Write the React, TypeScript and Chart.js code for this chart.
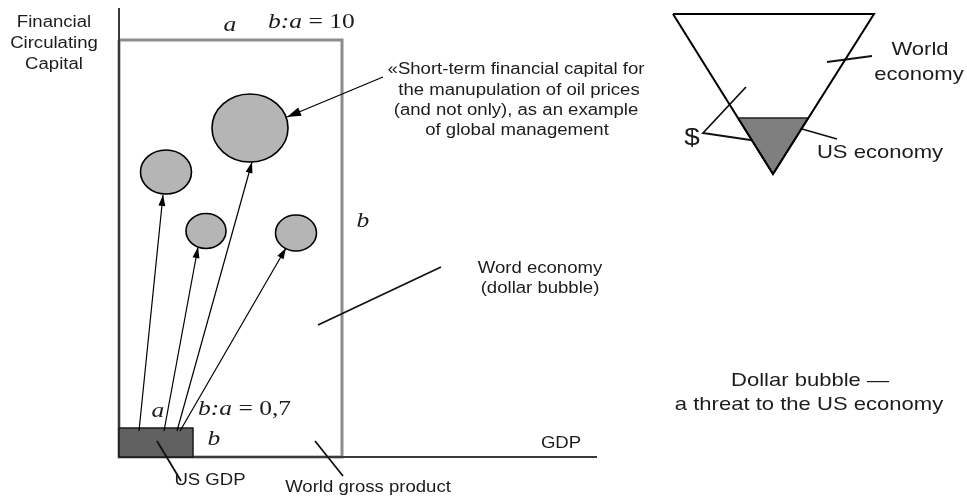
import React, { useEffect, useRef } from "react";
import { Chart, registerables } from "chart.js";

Chart.register(...registerables);

type P = { x: number; y: number };

// ---- geometry (diagram units = reference pixels) ----
const axisYLine: P[] = [{ x: 119, y: 8 }, { x: 119, y: 457 }];
const axisXLine: P[] = [{ x: 119, y: 457 }, { x: 597, y: 457 }];
const worldRect: P[] = [
  { x: 119, y: 40 }, { x: 342, y: 40 }, { x: 342, y: 457 }, { x: 119, y: 457 }, { x: 119, y: 40 },
];
const usRect: P[] = [
  { x: 119, y: 428 }, { x: 193, y: 428 }, { x: 193, y: 457 }, { x: 119, y: 457 }, { x: 119, y: 428 },
];
const bubbleCenters: P[] = [
  { x: 250, y: 128 }, { x: 166, y: 172 }, { x: 206, y: 231 }, { x: 296, y: 233 },
];
const bubbleRx = [38, 25.5, 20, 20.5];
const bubbleRy = [34, 22, 17.5, 18];
const arrowPaths: P[][] = [
  [{ x: 139, y: 431 }, { x: 163, y: 195 }],
  [{ x: 164, y: 431 }, { x: 198, y: 247 }],
  [{ x: 177, y: 431 }, { x: 252, y: 162 }],
  [{ x: 180, y: 431 }, { x: 286, y: 248 }],
  [{ x: 383, y: 77 }, { x: 287, y: 117 }],
];
const arrowHeadLen = [11, 11, 11, 11, 14];
const arrowHeadWidth = [7, 7, 7, 7, 9];
const leaderPaths: P[][] = [
  [{ x: 441, y: 267 }, { x: 318, y: 325 }],
  [{ x: 315, y: 441 }, { x: 343, y: 476 }],
  [{ x: 157, y: 441 }, { x: 181, y: 481 }],
  [{ x: 827, y: 62 }, { x: 872, y: 56 }],
  [{ x: 746, y: 87 }, { x: 703, y: 133 }, { x: 764, y: 142 }],
  [{ x: 795, y: 127 }, { x: 837, y: 139 }],
];
const outerTriangle: P[] = [
  { x: 673, y: 14 }, { x: 874, y: 14 }, { x: 773, y: 174 }, { x: 673, y: 14 },
];
const innerTriangle: P[] = [
  { x: 738, y: 118 }, { x: 808, y: 118 }, { x: 773, y: 174 }, { x: 738, y: 118 },
];

// ---- texts ----
const sansTexts = [
  "Financial", "Circulating", "Capital",
  "«Short-term financial capital for", "the manupulation of oil prices",
  "(and not only), as an example", "of global management",
  "Word economy", "(dollar bubble)",
  "GDP", "US GDP", "World gross product",
];
const sansAnchors: P[] = [
  { x: 54, y: 27 }, { x: 54, y: 48 }, { x: 54, y: 69 },
  { x: 516, y: 74 }, { x: 519, y: 95 }, { x: 516, y: 115 }, { x: 517, y: 135 },
  { x: 540, y: 273 }, { x: 540, y: 293 },
  { x: 561, y: 448 }, { x: 210, y: 485 }, { x: 368, y: 492 },
];
const sansSizes = [16, 16, 16, 16, 16, 16, 16, 16, 16, 16, 16, 16];

const rightTexts = ["World", "economy", "US economy", "Dollar bubble —", "a threat to the US economy"];
const rightAnchors: P[] = [
  { x: 920, y: 55 }, { x: 919, y: 80 }, { x: 880, y: 158 }, { x: 810, y: 386 }, { x: 809, y: 410 },
];
const rightSizes = [19, 19, 19, 19, 19];

const dollarText = "$";
const dollarAnchor: P = { x: 692, y: 145 };

// serif labels: [italic part, upright part]
const serifItalic = ["a", "b:a", "b", "a", "b:a", "b"];
const serifUpright = ["", " = 10", "", "", " = 0,7", ""];
const serifAnchors: P[] = [
  { x: 230, y: 31 }, { x: 268, y: 28 }, { x: 363, y: 227 },
  { x: 158, y: 417 }, { x: 198, y: 415 }, { x: 214, y: 445 },
];
const serifAlignLeft = [false, true, false, false, true, false];

const STRETCH = 1.16;
const TEXT_COLOR = "#1c1c1c";

const diagramPlugin = {
  id: "diagramPlugin",
  beforeDatasetDraw(chart: any, args: any) {
    const ds = chart.data.datasets[args.index];
    const meta = args.meta;
    const ctx = chart.ctx;
    if (ds.polyFill) {
      const pts = meta.data;
      ctx.save();
      ctx.beginPath();
      pts.forEach((p: any, i: number) => (i === 0 ? ctx.moveTo(p.x, p.y) : ctx.lineTo(p.x, p.y)));
      ctx.closePath();
      ctx.fillStyle = ds.polyFill;
      ctx.fill();
      ctx.restore();
    }
    if (ds.ellipseRx) {
      const xs = chart.scales.x;
      const ys = chart.scales.y;
      ctx.save();
      meta.data.forEach((p: any, i: number) => {
        const rx = Math.abs(xs.getPixelForValue(ds.ellipseRx[i]) - xs.getPixelForValue(0));
        const ry = Math.abs(ys.getPixelForValue(ds.ellipseRy[i]) - ys.getPixelForValue(0));
        ctx.beginPath();
        ctx.ellipse(p.x, p.y, rx, ry, 0, 0, Math.PI * 2);
        ctx.fillStyle = ds.backgroundColor;
        ctx.fill();
        ctx.lineWidth = ds.borderWidth;
        ctx.strokeStyle = ds.borderColor;
        ctx.stroke();
      });
      ctx.restore();
      return false;
    }
    return true;
  },
  afterDatasetDraw(chart: any, args: any) {
    const ds = chart.data.datasets[args.index];
    if (!ds.arrowLen) return;
    const pts = args.meta.data;
    const a = pts[pts.length - 2];
    const b = pts[pts.length - 1];
    const ang = Math.atan2(b.y - a.y, b.x - a.x);
    const len = ds.arrowLen;
    const w = ds.arrowWidth / 2;
    const ctx = chart.ctx;
    const bx = b.x - len * Math.cos(ang);
    const by = b.y - len * Math.sin(ang);
    ctx.save();
    ctx.beginPath();
    ctx.moveTo(b.x, b.y);
    ctx.lineTo(bx + w * Math.sin(ang), by - w * Math.cos(ang));
    ctx.lineTo(bx - w * Math.sin(ang), by + w * Math.cos(ang));
    ctx.closePath();
    ctx.fillStyle = "#000";
    ctx.fill();
    ctx.restore();
  },
  afterDraw(chart: any) {
    const ctx = chart.ctx;
    const xs = chart.scales.x;
    const ys = chart.scales.y;
    const px = (p: P) => ({ x: xs.getPixelForValue(p.x), y: ys.getPixelForValue(p.y) });
    const drawStretched = (text: string, p: P, font: string, align: CanvasTextAlign) => {
      const q = px(p);
      ctx.save();
      ctx.translate(q.x, q.y);
      ctx.scale(STRETCH, 1);
      ctx.font = font;
      ctx.textAlign = align;
      ctx.textBaseline = "alphabetic";
      ctx.fillStyle = TEXT_COLOR;
      ctx.fillText(text, 0, 0);
      ctx.restore();
    };
    sansTexts.forEach((t, i) =>
      drawStretched(t, sansAnchors[i], `${sansSizes[i]}px "Liberation Sans", Arial, sans-serif`, "center")
    );
    rightTexts.forEach((t, i) =>
      drawStretched(t, rightAnchors[i], `${rightSizes[i]}px "Liberation Sans", Arial, sans-serif`, "center")
    );
    drawStretched(dollarText, dollarAnchor, `24px "Liberation Sans", Arial, sans-serif`, "center");

    serifItalic.forEach((it, i) => {
      const q = px(serifAnchors[i]);
      const fi = `italic 22px "Liberation Serif", "Times New Roman", serif`;
      const fu = `22px "Liberation Serif", "Times New Roman", serif`;
      ctx.save();
      ctx.font = fi;
      const wi = ctx.measureText(it).width;
      ctx.font = fu;
      const wu = ctx.measureText(serifUpright[i]).width;
      const total = (wi + wu) * STRETCH;
      const startX = serifAlignLeft[i] ? q.x : q.x - total / 2;
      ctx.translate(startX, q.y);
      ctx.scale(STRETCH, 1);
      ctx.textAlign = "left";
      ctx.textBaseline = "alphabetic";
      ctx.fillStyle = TEXT_COLOR;
      ctx.font = fi;
      ctx.fillText(it, 0, 0);
      ctx.font = fu;
      ctx.fillText(serifUpright[i], wi, 0);
      ctx.restore();
    });
  },
};

function lineDs(data: P[], color: string, width: number, order: number, extra: any = {}) {
  return {
    type: "line",
    data,
    borderColor: color,
    borderWidth: width,
    pointRadius: 0,
    pointHoverRadius: 0,
    tension: 0,
    fill: false,
    order,
    clip: false,
    borderJoinStyle: "miter",
    ...extra,
  };
}

export default function App() {
  const ref = useRef<HTMLCanvasElement | null>(null);
  useEffect(() => {
    document.body.style.margin = "0";
    if (!ref.current) return;
    const datasets: any[] = [];
    datasets.push(lineDs(worldRect, "#8c8c8c", 3, 90));
    datasets.push(lineDs(axisYLine, "#3a3a3a", 2, 80));
    datasets.push(lineDs(axisXLine, "#3a3a3a", 2, 80));
    datasets.push(lineDs(usRect, "#1a1a1a", 1.5, 70, { polyFill: "#606060" }));
    arrowPaths.forEach((p, i) =>
      datasets.push(lineDs(p, "#000", 1.2, 60, { arrowLen: arrowHeadLen[i], arrowWidth: arrowHeadWidth[i] }))
    );
    datasets.push({
      type: "bubble",
      data: bubbleCenters.map((c, i) => ({ x: c.x, y: c.y, r: bubbleRx[i] })),
      ellipseRx: bubbleRx,
      ellipseRy: bubbleRy,
      backgroundColor: "#b5b5b5",
      borderColor: "#000",
      borderWidth: 1.6,
      order: 50,
      clip: false,
    });
    leaderPaths.forEach((p) => datasets.push(lineDs(p, "#111", 1.8, 40)));
    datasets.push(lineDs(innerTriangle, "#222", 1.5, 30, { polyFill: "#7f7f7f" }));
    datasets.push(lineDs(outerTriangle, "#000", 2, 20));

    const chart = new Chart(ref.current, {
      type: "line",
      data: { datasets },
      options: {
        animation: false,
        responsive: false,
        devicePixelRatio: 1,
        layout: { padding: 0, autoPadding: false },
        events: [],
        scales: {
          x: { type: "linear", min: 0, max: 967, display: false },
          y: { type: "linear", min: 0, max: 500, reverse: true, display: false },
        },
        plugins: {
          legend: { display: false },
          tooltip: { enabled: false },
        },
      } as any,
      plugins: [diagramPlugin as any],
    } as any);
    return () => chart.destroy();
  }, []);
  return (
    <div style={{ width: 967, height: 500, background: "#fff" }}>
      <canvas ref={ref} width={967} height={500} style={{ display: "block" }} />
    </div>
  );
}
